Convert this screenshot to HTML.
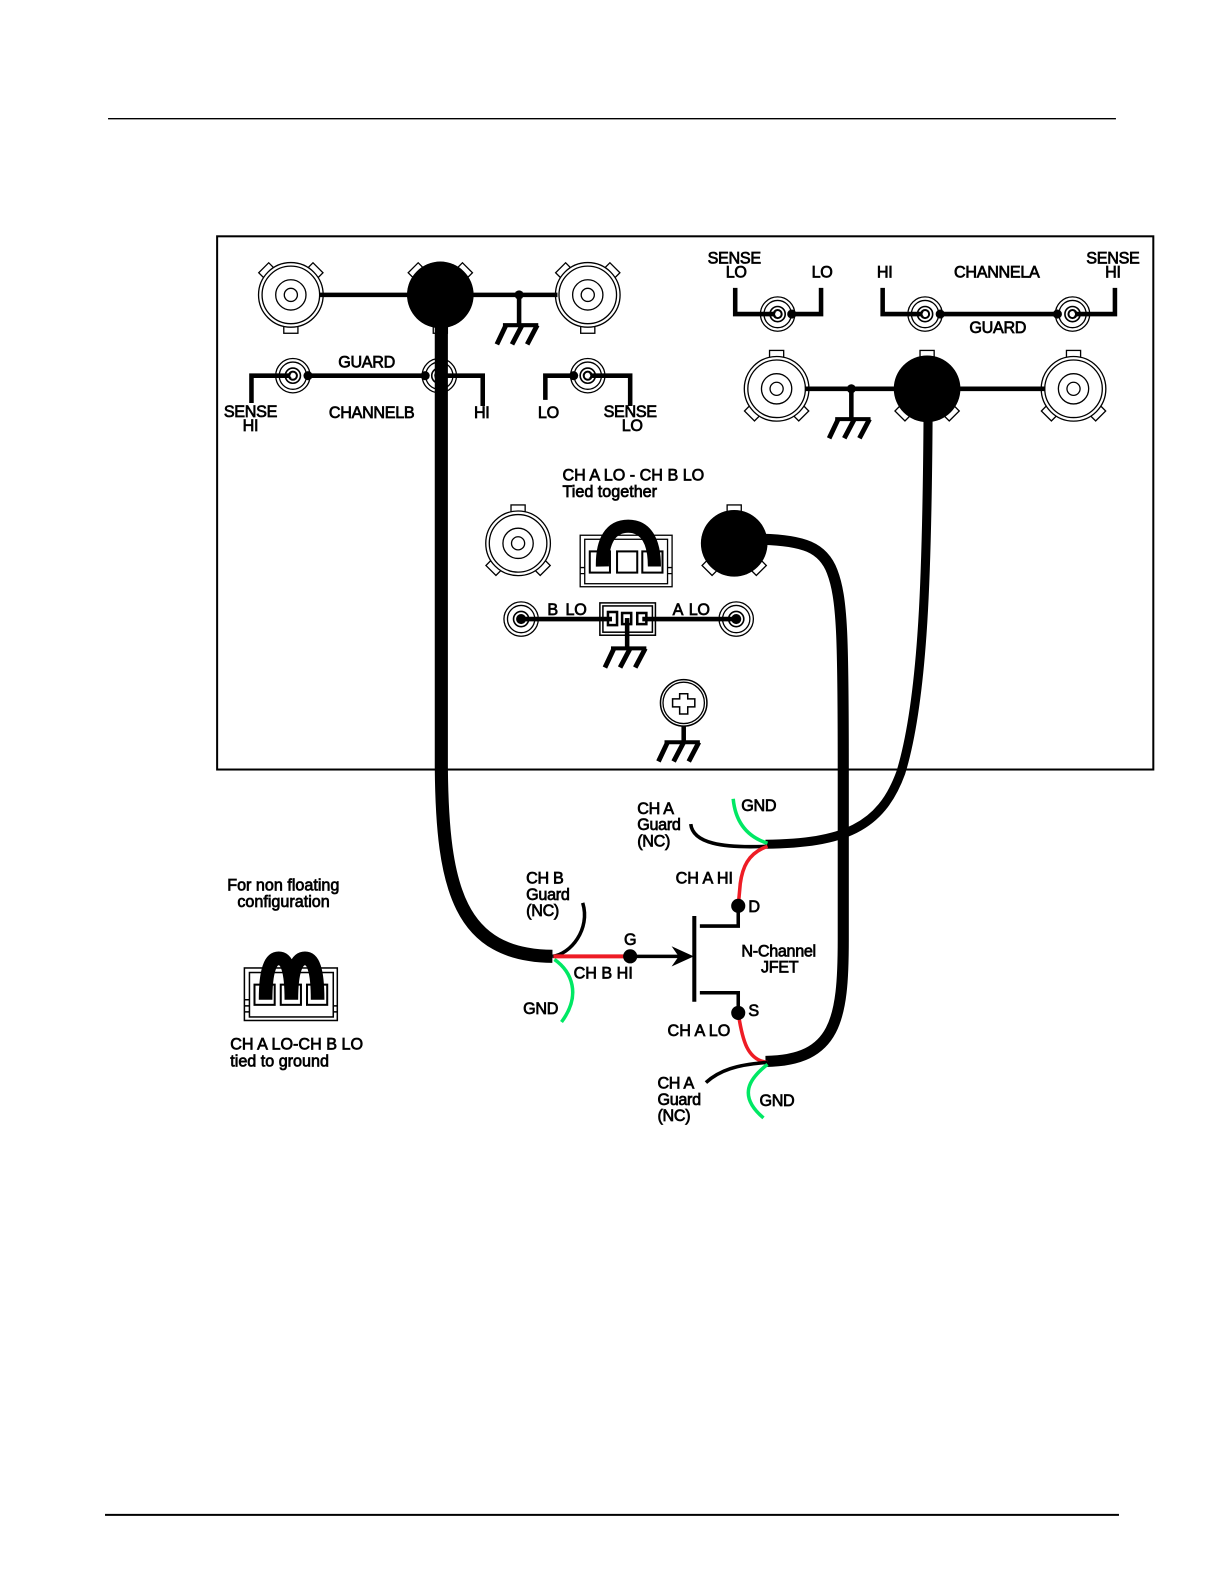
<!DOCTYPE html>
<html><head><meta charset="utf-8"><style>
html,body{margin:0;padding:0;background:#fff}
svg{display:block}
text{font-family:"Liberation Sans",sans-serif;font-size:16px;fill:#000;stroke:#000;stroke-width:.7px;letter-spacing:-.3px}
.m{text-anchor:middle}
.w{letter-spacing:0}
</style></head><body>
<svg width="1224" height="1584" viewBox="0 0 1212 1568.5" preserveAspectRatio="none" xmlns="http://www.w3.org/2000/svg">
<defs>
<g id="bnct" fill="#fff" stroke="#000" stroke-width="1.3">
<rect x="-7" y="-38" width="14" height="8"/>
<rect x="-7" y="-38" width="14" height="8" transform="rotate(135)"/>
<rect x="-7" y="-38" width="14" height="8" transform="rotate(-135)"/>
<circle r="32"/><circle r="28.5"/><circle r="15"/><circle r="6.5"/>
</g>
<g id="bnc" fill="#fff" stroke="#000" stroke-width="1.3">
<rect x="-7" y="-38" width="14" height="8" transform="rotate(180)"/>
<rect x="-7" y="-38" width="14" height="8" transform="rotate(45)"/>
<rect x="-7" y="-38" width="14" height="8" transform="rotate(-45)"/>
<circle r="32"/><circle r="28.5"/><circle r="15"/><circle r="6.5"/>
</g>
<g id="sm" fill="#fff" stroke="#000" stroke-width="1.3">
<circle r="17"/><circle r="13.5"/><circle r="7.5" stroke-width="1.6"/><circle r="4" stroke-width="2"/>
</g>
<g id="gnd" fill="none" stroke="#000">
<path d="M-16 0H19" stroke-width="4"/>
<path d="M-13 0L-22 19M3 0L-7 19M18 0L8 19" stroke-width="4.8"/>
</g>
</defs>
<rect width="1224" height="1584" fill="#fff"/>
<path d="M107 117.500H1105" stroke="#000" stroke-width="1.300"/>
<path d="M104 1500H1108" stroke="#000" stroke-width="2"/>
<rect x="215" y="234" width="927" height="528" fill="none" stroke="#000" stroke-width="2"/>

<!-- top-left row -->
<use href="#bnc" x="288" y="292"/>
<use href="#bnc" x="436" y="292"/>
<use href="#bnc" x="582" y="292"/>
<path d="M316 292H552" stroke="#000" stroke-width="4.500"/>
<circle cx="436" cy="292" r="33"/>
<circle cx="514" cy="292" r="4.500"/>
<path d="M514 292V322" stroke="#000" stroke-width="4.500"/>
<use href="#gnd" x="514" y="322"/>

<!-- channel B small -->
<use href="#sm" x="290" y="372"/>
<use href="#sm" x="435" y="372"/>
<use href="#sm" x="582" y="372"/>
<path d="M249 399V372H290M305 372H421M436 372H478V402M540 396V372H568M582 372H624V402" fill="none" stroke="#000" stroke-width="4.500"/>
<circle cx="305" cy="372" r="4.500"/><circle cx="421" cy="372" r="4.500"/><circle cx="568" cy="372" r="4.500"/>
<circle cx="290" cy="372" r="2.500" fill="#fff"/><circle cx="582" cy="372" r="2.500" fill="#fff"/>

<!-- channel A small -->
<use href="#sm" x="770" y="311"/>
<use href="#sm" x="916" y="311"/>
<use href="#sm" x="1062" y="311"/>
<path d="M728 285V311H770M784 311H813V285M874 285V311H916M931 311H1047M1062 311H1104V285" fill="none" stroke="#000" stroke-width="4.500"/>
<circle cx="784" cy="311" r="4.500"/><circle cx="931" cy="311" r="4.500"/><circle cx="1047" cy="311" r="4.500"/>
<circle cx="770" cy="311" r="2.500" fill="#fff"/><circle cx="916" cy="311" r="2.500" fill="#fff"/><circle cx="1062" cy="311" r="2.500" fill="#fff"/>

<!-- channel A big row -->
<use href="#bnct" x="769" y="385"/>
<use href="#bnct" x="918" y="385"/>
<use href="#bnct" x="1063" y="385"/>
<path d="M797 385H1035" stroke="#000" stroke-width="4.500"/>
<circle cx="918" cy="385" r="33"/>
<circle cx="843" cy="385" r="4.500"/>
<path d="M843 385V415" stroke="#000" stroke-width="4.500"/>
<use href="#gnd" x="843" y="415"/>

<!-- middle row -->
<use href="#bnct" x="513" y="538"/>
<use href="#bnct" x="727" y="538"/>
<circle cx="727" cy="538" r="33"/>
<g fill="none" stroke="#000" stroke-width="1.300">
<rect x="574.500" y="530" width="91" height="51"/>
<rect x="579" y="534" width="82" height="44"/>
<path d="M574.500 562H579M574.500 568H579M661 562H665.500M661 568H665.500"/>
<rect x="584" y="546" width="20" height="21" stroke-width="2"/>
<rect x="611" y="546" width="20" height="21" stroke-width="2"/>
<rect x="636" y="546" width="20" height="21" stroke-width="2"/>
</g>
<path d="M596.500 561C596 535 605 521 622 521C639 521 648 535 648 561" fill="none" stroke="#000" stroke-width="13"/>

<!-- lo connector -->
<use href="#sm" x="516" y="613"/>
<use href="#sm" x="729" y="613"/>
<g fill="#fff" stroke="#000" stroke-width="1.500">
<rect x="594" y="597" width="55" height="32"/>
<rect x="597" y="600" width="49" height="26"/>
</g>
<g fill="#fff" stroke="#000" stroke-width="2.500">
<rect x="602" y="606" width="9" height="13"/><rect x="616" y="607" width="9" height="11"/><rect x="631" y="607" width="9" height="11"/>
</g>
<path d="M516 613H606M636 613H729" stroke="#000" stroke-width="4.500"/>
<circle cx="516" cy="613" r="4"/><circle cx="729" cy="613" r="4"/>
<path d="M621 612V642" stroke="#000" stroke-width="4.500"/>
<use href="#gnd" x="621" y="642"/>

<!-- screw -->
<circle cx="677" cy="696" r="23" fill="#fff" stroke="#000" stroke-width="1.500"/>
<circle cx="677" cy="696" r="20.500" fill="#fff" stroke="#000" stroke-width="1.300"/>
<path d="M673 687H681V692H688V700H681V707H673V700H666V692H673Z" fill="#fff" stroke="#000" stroke-width="1.500"/>
<path d="M677 719V735" stroke="#000" stroke-width="4.500"/>
<use href="#gnd" x="674" y="735"/>

<!-- thick cables -->
<g fill="none" stroke="#000" stroke-linecap="butt">
<path d="M437 315V760C438 880 455 946 547 947" stroke-width="13"/>
<path d="M919 410C918 560 915 690 892 765C872 820 835 835 758 836" stroke-width="9"/>
<path d="M755 534C795 535 815 542 824 566C834 592 835 630 835 760V930C835 1010 828 1050 758 1051" stroke-width="11"/>
</g>

<!-- thin wires -->
<g fill="none" stroke-linecap="butt">
<path d="M577 894C585 920 565 945 547 947" stroke="#000" stroke-width="3.500"/>
<path d="M549 950C566 962 576 985 556 1012" stroke="#00e864" stroke-width="3.500"/>
<path d="M548 947H624" stroke="#ee1c25" stroke-width="4"/>
<path d="M684 816C686 835 715 840 760 838" stroke="#000" stroke-width="3.500"/>
<path d="M726 791C728 812 738 828 760 835" stroke="#00e864" stroke-width="3.500"/>
<path d="M760 838C740 845 735 860 733 875L731 897" stroke="#ee1c25" stroke-width="3.500"/>
<path d="M731 1003C735 1030 740 1050 760 1052" stroke="#ee1c25" stroke-width="3.500"/>
<path d="M699 1072C712 1060 730 1054 760 1052" stroke="#000" stroke-width="3.500"/>
<path d="M760 1054C742 1068 730 1085 756 1107" stroke="#00e864" stroke-width="3.500"/>
</g>

<!-- JFET -->
<g fill="none" stroke="#000" stroke-width="3.500">
<path d="M624 947H680"/>
<path d="M687.500 907V992" stroke-width="4"/>
<path d="M693 917H731V897"/>
<path d="M693 983H731V1003"/>
</g>
<path d="M687 947L665 937L672 947L665 957Z" fill="#000"/>
<circle cx="624" cy="947" r="7"/><circle cx="731" cy="897" r="7"/><circle cx="731" cy="1003" r="7"/>

<!-- bottom-left connector -->
<g fill="none" stroke="#000" stroke-width="1.500">
<rect x="242" y="958.500" width="92" height="52"/>
<rect x="247" y="963" width="83" height="44"/>
<path d="M242 990H247M242 996H247M242 1002H247M330 996H334M330 1002H334"/>
<rect x="252" y="975" width="20" height="20" stroke-width="2"/>
<rect x="278" y="975" width="20" height="20" stroke-width="2"/>
<rect x="304" y="975" width="20" height="20" stroke-width="2"/>
</g>
<path d="M263 990C263 960 268 949 276 949C284 949 288.500 960 288.500 990C288.500 960 294 949 302 949C310 949 314.500 960 314.500 990" fill="none" stroke="#000" stroke-width="13.500"/>

<!-- labels -->
<text class="m" x="248" y="413">SENSE</text><text class="m" x="248" y="427">HI</text>
<text class="m" x="363" y="364">GUARD</text>
<text class="m" x="368" y="414">CHANNELB</text>
<text class="m" x="477" y="414">HI</text>
<text class="m" x="543" y="414">LO</text>
<text class="m" x="624" y="413">SENSE</text><text class="m" x="626" y="427">LO</text>
<text class="m" x="727" y="261">SENSE</text><text class="m" x="729" y="275">LO</text>
<text class="m" x="814" y="275">LO</text>
<text class="m" x="876" y="275">HI</text>
<text class="m" x="987" y="275">CHANNELA</text>
<text class="m" x="1102" y="261">SENSE</text><text class="m" x="1102" y="275">HI</text>
<text class="m" x="988" y="330">GUARD</text>
<text class="w" x="557" y="476">CH A LO - CH B LO</text>
<text class="w" x="557" y="492">Tied together</text>
<text x="542" y="609">B</text><text x="560" y="609">LO</text>
<text x="666" y="609">A</text><text x="682" y="609">LO</text>
<text x="631" y="806">CH A</text><text x="631" y="822">Guard</text><text x="631" y="838">(NC)</text>
<text x="734" y="803">GND</text>
<text class="w" x="669" y="875">CH A HI</text>
<text x="741" y="903">D</text>
<text x="521" y="875">CH B</text><text x="521" y="891">Guard</text><text x="521" y="907">(NC)</text>
<text class="m" x="624" y="936">G</text>
<text class="w" x="568" y="969">CH B HI</text>
<text x="518" y="1004">GND</text>
<text class="m" x="771" y="947">N-Channel</text>
<text class="m" x="772" y="963">JFET</text>
<text x="741" y="1006">S</text>
<text class="w" x="661" y="1026">CH A LO</text>
<text x="651" y="1078">CH A</text><text x="651" y="1094">Guard</text><text x="651" y="1110">(NC)</text>
<text x="752" y="1095">GND</text>
<text class="w" x="225" y="882">For non floating</text>
<text class="w" x="235" y="898">configuration</text>
<text class="w" x="228" y="1039">CH A LO-CH B LO</text>
<text class="w" x="228" y="1056">tied to ground</text>
</svg>
</body></html>
